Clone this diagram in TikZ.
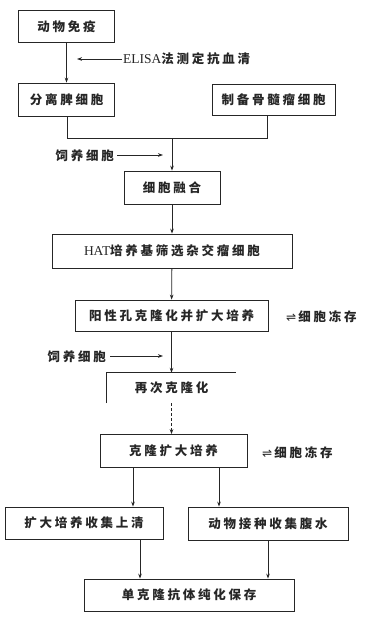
\documentclass[tikz,border=0pt]{standalone}
\usepackage{fontspec}
\setmainfont{Noto Sans CJK SC}[LetterSpace=22]
\newfontfamily\lat{Liberation Serif}
\newfontfamily\sym{DejaVu Sans}
\usetikzlibrary{arrows.meta}
\begin{document}
\begin{tikzpicture}[x=1pt,y=-1pt,
  every node/.style={font=\fontsize{12.5}{14}\selectfont\bfseries, text=black!85, inner sep=0pt},
  box/.style={draw=black!85, line width=0.8pt, rectangle},
  lbl/.style={anchor=west},
  conn/.style={draw=black!85, line width=0.8pt},
  arr/.style={conn, -{Stealth[length=5pt,width=3.6pt]}}]
\useasboundingbox (0,0) rectangle (365,621);
\fill[white] (0,0) rectangle (365,621);
% boxes
\node[box, minimum width=96pt, minimum height=32pt] (b1) at (66.5,26.5) {动物免疫};
\node[box, minimum width=96pt, minimum height=33pt] (b2) at (66.5,99.5) {分离脾细胞};
\node[box, minimum width=123pt, minimum height=31pt] (b3) at (273.5,99.5) {制备骨髓瘤细胞};
\node[box, minimum width=96pt, minimum height=33pt] (fuse) at (172,187.5) {细胞融合};
\node[box, minimum width=240pt, minimum height=34pt] (hat) at (172,251) {{\lat\mdseries\fontsize{13.5}{14}\selectfont HAT}培养基筛选杂交瘤细胞};
\node[box, minimum width=193pt, minimum height=31pt] (pos) at (171.5,315.5) {阳性孔克隆化并扩大培养};
\node[minimum width=129pt, minimum height=30pt] (rc) at (171.5,388) {再次克隆化};
\node[box, minimum width=147pt, minimum height=33pt] (clone) at (173.5,451) {克隆扩大培养};
\node[box, minimum width=158pt, minimum height=32pt] (sup) at (84,523) {扩大培养收集上清};
\node[box, minimum width=160pt, minimum height=33pt] (asc) at (268,523.5) {动物接种收集腹水};
\node[box, minimum width=210pt, minimum height=32pt] (fin) at (189,595) {单克隆抗体纯化保存};
% side labels
\node[lbl] (elisa) at (123,59) {{\lat\mdseries\fontsize{13.5}{14}\selectfont ELISA}法测定抗血清};
\node[anchor=east] (feed1) at (114,156) {饲养细胞};
\node[anchor=east] (feed2) at (106,357) {饲养细胞};
\node[lbl] (frz1) at (286,317) {{\sym\mdseries\fontsize{12}{12}\selectfont ⇌}\,细胞冻存};
\node[lbl] (frz2) at (262,453) {{\sym\mdseries\fontsize{12}{12}\selectfont ⇌}\,细胞冻存};
% coordinates
\coordinate (e1) at (77,59);
\coordinate (m2) at (67,138);
\coordinate (m3) at (267,138);
\coordinate (m) at (172,138);
\coordinate (f1) at (163,155);
\coordinate (f2) at (163,356);
\coordinate (xa) at (133,0);
\coordinate (xb) at (219,0);
\coordinate (xc) at (140,0);
% partial box of reclone
\draw[conn] (rc.south west) -- (rc.north west) -- (rc.north east);
% connectors
\draw[arr] (b1) -- (b2);
\draw[arr] (elisa.west) ++(-1,0) -- (e1);
\draw[conn] (m2 |- b2.south) -- (m2) -- (m3) -- (m3 |- b3.south);
\draw[arr] (m) -- (fuse.north);
\draw[arr] (feed1.east) ++(3,-1) -- (f1);
\draw[arr] (fuse) -- (hat);
\draw[arr] (hat) -- (pos);
\draw[arr] (pos.south) -- (pos.south |- rc.north);
\draw[arr] (feed2.east) ++(4,-1) -- (f2);
\draw[arr, densely dashed] (rc.south) -- (rc.south |- clone.north);
\draw[arr] (clone.south -| xa) -- (sup.north -| xa);
\draw[arr] (clone.south -| xb) -- (asc.north -| xb);
\draw[arr] (sup.south -| xc) -- (fin.north -| xc);
\draw[arr] (asc.south) -- (asc.south |- fin.north);
\end{tikzpicture}
\end{document}
